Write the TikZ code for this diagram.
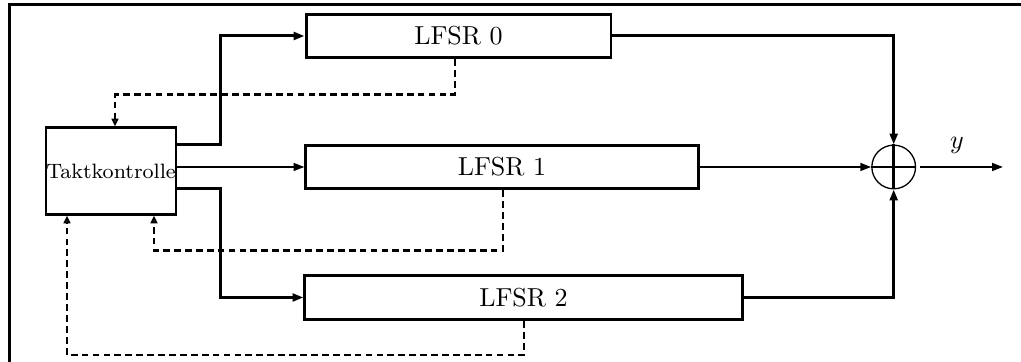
\documentclass[tikz,border=0pt]{standalone}
\usetikzlibrary{arrows.meta,calc}
\begin{document}
\begin{tikzpicture}[x=3.846pt,y=3.846pt,
        reg/.style={draw,line width=1.15pt,inner sep=0pt,minimum height=16.9pt},
        bus/.style={line width=1.15pt,-{Triangle[length=4.2pt,width=3pt]}},
        wire/.style={line width=0.8pt,-{Triangle[length=4.2pt,width=3pt]}},
        fb/.style={line width=0.9pt,dash pattern=on 2.6pt off 1.6pt,
                   -{Triangle[open,length=3pt,width=2.6pt]}}]
    \useasboundingbox (0,0) rectangle (102.1,36.2);

    % frame
    \draw[line width=1.15pt] (0.95,-1) |- (104,35.7);

    % clock control and the three registers
    \node[draw,line width=1.15pt,minimum width=50pt,minimum height=33.1pt,inner sep=0pt]
        (takt) at (11.1,19.1) {\footnotesize Taktkontrolle};
    \node[reg,minimum width=117.3pt] (lfsr0) at (45.85,32.6) {LFSR 0};
    \node[reg,minimum width=150.8pt] (lfsr1) at (50.2,19.5) {LFSR 1};
    \node[reg,minimum width=168.1pt] (lfsr2) at (52.35,6.45) {LFSR 2};

    % XOR
    \node[circle,draw,line width=0.5pt,minimum size=16.8pt,inner sep=0pt] (xor) at (89.37,19.5) {};
    \draw[line width=1.15pt] (xor.north) -- (xor.south);
    \draw[line width=0.8pt] (xor.west) -- (xor.east);

    % clock lines
    \draw[bus] ($(takt.east)+(0,2.6)$) -- ++(4.3,0) |- (lfsr0.west);
    \draw[wire] (takt.east |- lfsr1.west) -- (lfsr1.west);
    \draw[bus] ($(takt.east)+(0,-1.8)$) -- ++(4.3,0) |- (lfsr2.west);

    % outputs into the XOR
    \draw[bus] (lfsr0.east) -| (xor.north);
    \draw[wire] (lfsr1.east) -- (xor.west);
    \draw[bus] (lfsr2.east) -| (xor.south);

    \coordinate (out) at (100.3,19.5);
    \draw[wire] ($(xor.east)+(0.4,0)$) -- (out);
    \node (ylab) at (95.7,21.7) {$y$};

    % feedback to the clock control
    \draw[fb] ($(lfsr0.south)+(-0.35,0)$) -- ++(0,-3.5) -| ($(takt.north)+(0.4,0)$);
    \draw[fb] ($(lfsr1.south)+(0.1,0)$) -- ++(0,-6.0) -| ($(takt.south)+(4.3,0)$);
    \draw[fb] ($(lfsr2.south)+(0.05,0)$) -- ++(0,-3.4) -| ($(takt.south)+(-4.4,0)$);
\end{tikzpicture}
\end{document}
